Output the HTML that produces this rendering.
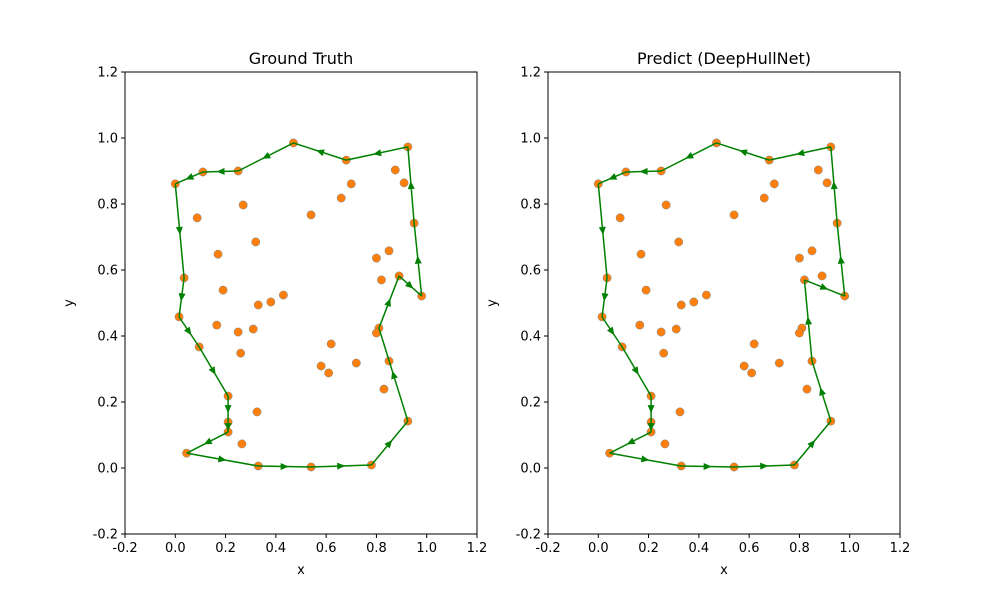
<!DOCTYPE html>
<html><head><meta charset="utf-8"><style>
body{margin:0;background:#fff;font-family:"Liberation Sans","DejaVu Sans",sans-serif}
svg text{font-family:"DejaVu Sans","Liberation Sans",sans-serif;fill:#000}
</style></head><body>
<svg id="c" width="1000" height="600" viewBox="0 0 1000 600"></svg>
<script>
const pointsX=[0.00,0.11,0.25,0.47,0.68,0.925,0.875,0.91,0.70,0.66,0.27,0.087,0.54,0.95,0.32,0.17,0.85,0.80,0.035,0.89,0.82,0.98,0.19,0.43,0.38,0.33,0.015,0.165,0.81,0.80,0.31,0.25,0.62,0.26,0.095,0.85,0.72,0.58,0.61,0.83,0.21,0.325,0.925,0.21,0.21,0.265,0.045,0.33,0.54,0.78];
const pointsY=[0.861,0.897,0.90,0.985,0.933,0.973,0.903,0.864,0.861,0.818,0.797,0.758,0.767,0.742,0.685,0.648,0.658,0.636,0.576,0.582,0.570,0.521,0.539,0.524,0.503,0.494,0.458,0.433,0.424,0.409,0.421,0.412,0.376,0.348,0.367,0.324,0.318,0.309,0.288,0.239,0.218,0.170,0.142,0.139,0.109,0.073,0.045,0.006,0.003,0.009];
const truthHull=[0,18,26,34,40,43,44,46,47,48,49,42,28,19,21,13,5,4,3,2,1,0];
const predHull=[0,18,26,34,40,43,44,46,47,48,49,42,35,20,21,13,5,4,3,2,1,0];
const ticks=[-0.2,0,0.2,0.4,0.6,0.8,1.0,1.2];
const titles=["Ground Truth","Predict (DeepHullNet)"];
const NS="http://www.w3.org/2000/svg";
const svg=document.getElementById('c');
function mk(t,a,p){const e=document.createElementNS(NS,t);for(const k in a)e.setAttribute(k,a[k]);(p||svg).appendChild(e);return e;}
[[125,truthHull],[548,predHull]].forEach(([L,hull],pi)=>{
  const W=352,T=72,H=462;
  const sx=v=>L+(v+0.2)/1.4*W, sy=v=>T+H-(v+0.2)/1.4*H;
  const g=mk('g',{});
  
  
  const fr=mk('rect',{x:L,y:T,width:W,height:H,fill:'none',stroke:'#000','stroke-width':1},g);
  
  ticks.forEach(t=>{
    mk('line',{x1:sx(t),x2:sx(t),y1:T+H,y2:T+H+4,stroke:'#000'},g);
    const tx=mk('text',{x:sx(t),y:T+H+18,'text-anchor':'middle','font-size':13},g);tx.textContent=t.toFixed(1);
    
    mk('line',{x1:L-4,x2:L,y1:sy(t),y2:sy(t),stroke:'#000'},g);
    const ty=mk('text',{x:L-7,y:sy(t)+4.5,'text-anchor':'end','font-size':13},g);ty.textContent=t.toFixed(1);
    
  });
  const ti=mk('text',{x:L+W/2,y:64,'text-anchor':'middle','font-size':16},g);ti.textContent=titles[pi];
  
  const xl=mk('text',{x:L+W/2,y:574,'text-anchor':'middle','font-size':13},g);xl.textContent='x';
  
  const yl=mk('text',{x:0,y:0,'text-anchor':'middle','font-size':13,transform:`translate(${L-52},${T+H/2}) rotate(-90)`},g);yl.textContent='y';
  
  pointsX.forEach((x,i)=>{
    const c=mk('circle',{cx:sx(x),cy:sy(pointsY[i]),r:4.2,fill:'#ff7f0e',stroke:'#1f77b4','stroke-width':0.3},g);
    
  });
  for(let k=0;k<hull.length-1;k++){
    const a=hull[k],b=hull[k+1];
    const x1=sx(pointsX[a]),y1=sy(pointsY[a]),x2=sx(pointsX[b]),y2=sy(pointsY[b]);
    const l=mk('line',{x1,y1,x2,y2,stroke:'#008000','stroke-width':1.5},g);
    
    const mx=(x1+x2)/2,my=(y1+y2)/2,ang=Math.atan2(y2-y1,x2-x1)*180/Math.PI;
    const ar=mk('polygon',{points:'4,0 -4,-3.5 -4,3.5',fill:'#008000',transform:`translate(${mx},${my}) rotate(${ang})`},g);
    
  }
});
</script>
</body></html>
